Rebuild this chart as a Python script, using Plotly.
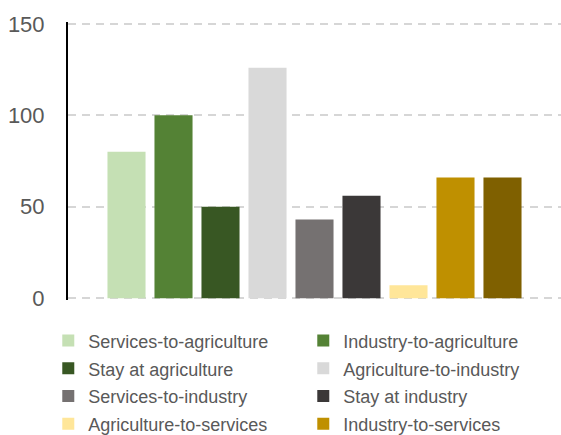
import plotly.graph_objects as go

series_names = [
    "Services-to-agriculture", "Industry-to-agriculture", "Stay at agriculture",
    "Agriculture-to-industry", "Services-to-industry", "Stay at industry",
    "Agriculture-to-services", "Industry-to-services", "Stay at services",
]
values = [80, 100, 50, 126, 43, 56, 7, 66, 66]
colors = ["#C5E0B4", "#548235", "#385723", "#D9D9D9", "#757171",
          "#3B3838", "#FFE699", "#BF9000", "#7F6000"]
legend_ids = ["legend", "legend2", "legend", "legend2", "legend",
              "legend2", "legend", "legend2", None]
y_ticks = [0, 50, 100, 150]

fig = go.Figure()
for name, v, c, lg in zip(series_names, values, colors, legend_ids):
    kw = dict(legend=lg, showlegend=True) if lg else dict(showlegend=False)
    fig.add_trace(go.Bar(x=[""], y=[v], name='<span style="font-size:18px">' + name + '</span>',
                         marker=dict(color=c, line=dict(width=0)), **kw))

leg_common = dict(orientation="v", yanchor="top", xanchor="left",
                  font=dict(size=19, color="#595959"), traceorder="normal",
                  bgcolor="rgba(0,0,0,0)")
fig.update_layout(
    width=561, height=435,
    margin=dict(l=68, r=0, t=22, b=135, autoexpand=False),
    paper_bgcolor="white", plot_bgcolor="white",
    barmode="group", bargap=0.142, bargroupgap=0.19,
    font=dict(family="Liberation Sans", color="#595959"),
    xaxis=dict(showticklabels=False, showgrid=False, zeroline=False, showline=False, ticks=""),
    yaxis=dict(range=[-1, 151], tickvals=y_ticks, showgrid=True, gridcolor="#D6D6D6",
               griddash="8px,6px", gridwidth=2, zeroline=False, showline=True,
               linecolor="black", linewidth=2, ticks="", ticklabelstandoff=17,
               tickfont=dict(size=22, color="#595959")),
    legend=dict(x=-0.04, y=-0.078, **leg_common),
    legend2=dict(x=-0.04 + 255 / 493, y=-0.078, **leg_common),
)
fig.write_html("out.html")
